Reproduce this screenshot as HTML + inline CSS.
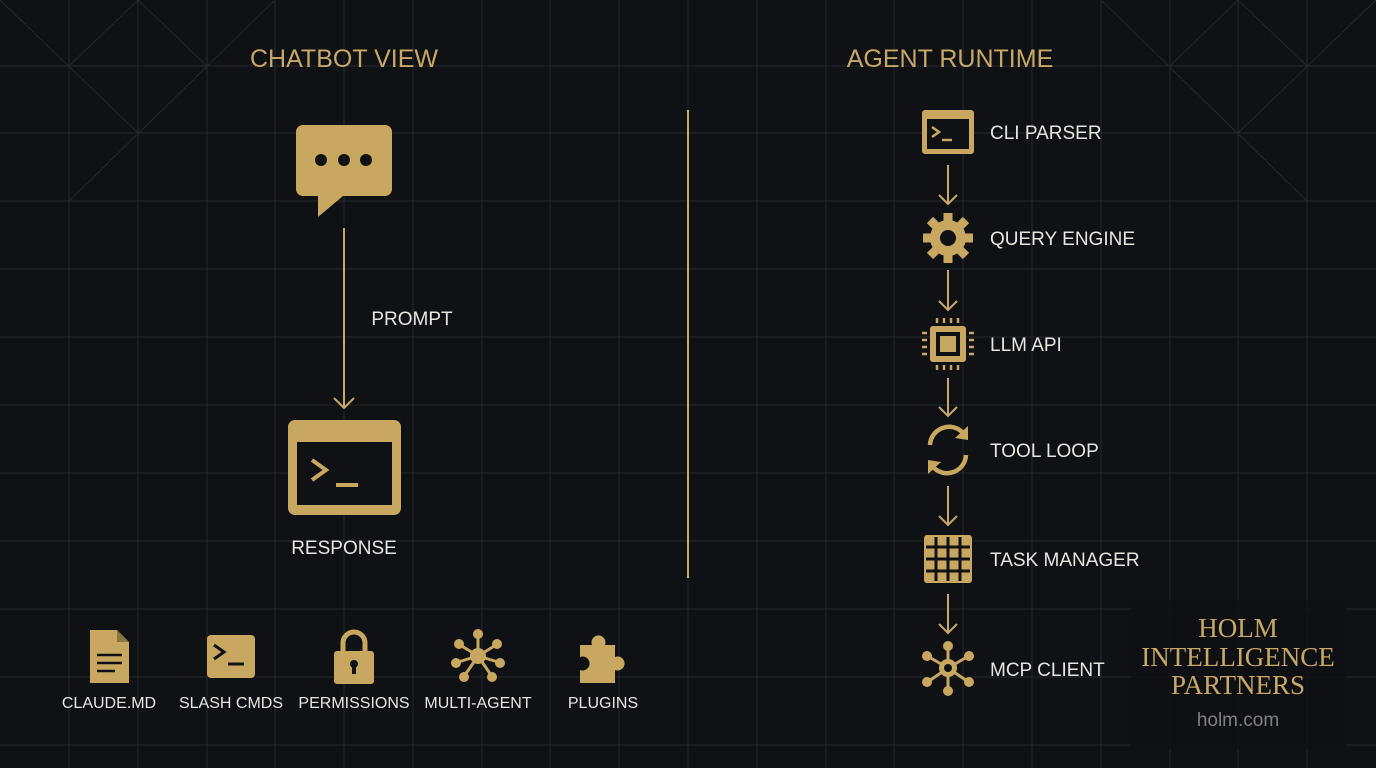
<!DOCTYPE html>
<html><head><meta charset="utf-8"><style>
html,body{margin:0;padding:0;background:#0f1114;}
svg{display:block}
text{font-family:"Liberation Sans",sans-serif;}
</style></head><body>
<svg width="1376" height="768" viewBox="0 0 1376 768" xmlns="http://www.w3.org/2000/svg">
<rect width="1376" height="768" fill="#0f1114"/>
<g stroke="#26292c" stroke-width="1">
<line x1="69" y1="0" x2="69" y2="768"/><line x1="138" y1="0" x2="138" y2="768"/><line x1="207" y1="0" x2="207" y2="768"/><line x1="275" y1="0" x2="275" y2="768"/><line x1="344" y1="0" x2="344" y2="768"/><line x1="413" y1="0" x2="413" y2="768"/><line x1="482" y1="0" x2="482" y2="768"/><line x1="550" y1="0" x2="550" y2="768"/><line x1="619" y1="0" x2="619" y2="768"/><line x1="688" y1="0" x2="688" y2="768"/><line x1="757" y1="0" x2="757" y2="768"/><line x1="826" y1="0" x2="826" y2="768"/><line x1="894" y1="0" x2="894" y2="768"/><line x1="963" y1="0" x2="963" y2="768"/><line x1="1032" y1="0" x2="1032" y2="768"/><line x1="1101" y1="0" x2="1101" y2="768"/><line x1="1170" y1="0" x2="1170" y2="768"/><line x1="1238" y1="0" x2="1238" y2="768"/><line x1="1307" y1="0" x2="1307" y2="768"/>
<line x1="0" y1="66" x2="1376" y2="66"/><line x1="0" y1="133" x2="1376" y2="133"/><line x1="0" y1="201" x2="1376" y2="201"/><line x1="0" y1="269" x2="1376" y2="269"/><line x1="0" y1="337" x2="1376" y2="337"/><line x1="0" y1="405" x2="1376" y2="405"/><line x1="0" y1="473" x2="1376" y2="473"/><line x1="0" y1="541" x2="1376" y2="541"/><line x1="0" y1="609" x2="1376" y2="609"/><line x1="0" y1="677" x2="1376" y2="677"/><line x1="0" y1="745" x2="1376" y2="745"/>
<line x1="0" y1="0" x2="138" y2="133"/><line x1="138" y1="0" x2="69" y2="66"/><line x1="138" y1="0" x2="207" y2="66"/><line x1="275" y1="0" x2="69" y2="201"/>
<line x1="1376" y1="0" x2="1238" y2="133"/><line x1="1238" y1="0" x2="1307" y2="66"/><line x1="1101" y1="0" x2="1307" y2="201"/><line x1="1238" y1="0" x2="1170" y2="66"/>
</g>
<rect x="1130" y="600" width="216" height="150" fill="#0f1114" opacity="0.85"/>
<g fill="#c8a868" font-size="25"><text x="344" y="67" text-anchor="middle">CHATBOT VIEW</text><text x="950" y="67" text-anchor="middle">AGENT RUNTIME</text></g>
<line x1="688" y1="110" x2="688" y2="578" stroke="#c8a868" stroke-width="2"/>
<path d="M303 125 H385 a7 7 0 0 1 7 7 V189 a7 7 0 0 1 -7 7 H343 L318 217 V196 H303 a7 7 0 0 1 -7 -7 V132 a7 7 0 0 1 7 -7Z" fill="#c8a860"/>
<circle cx="321" cy="160" r="6" fill="#0f1114"/><circle cx="344" cy="160" r="6" fill="#0f1114"/><circle cx="366" cy="160" r="6" fill="#0f1114"/>
<g stroke="#c8a868" stroke-width="2" fill="none"><line x1="344" y1="228" x2="344" y2="408"/><polyline points="334,398 344,408 354,398"/></g>
<text x="412" y="325" text-anchor="middle" fill="#e8e6e0" font-size="19">PROMPT</text>
<rect x="288" y="420" width="113" height="95" rx="7" fill="#c8a860"/>
<rect x="297" y="442" width="95" height="63" fill="#0f1114"/>
<polyline points="312,460 326,470 312,480" stroke="#c8a860" stroke-width="4" fill="none"/><line x1="336" y1="485" x2="358" y2="485" stroke="#c8a860" stroke-width="4"/>
<text x="344" y="554" text-anchor="middle" fill="#e8e6e0" font-size="19">RESPONSE</text>
<path d="M90 630 H117 L129 642 V683 H90Z" fill="#c8a860"/><g stroke="#0f1114" stroke-width="2.5"><line x1="97" y1="655" x2="122" y2="655"/><line x1="97" y1="663" x2="122" y2="663"/><line x1="97" y1="671" x2="115" y2="671"/></g><path d="M117 630 V642 H129" fill="#8a7442"/>
<rect x="207" y="635" width="48" height="43" rx="4" fill="#c8a860"/><polyline points="214,645 224,652 214,659" stroke="#0f1114" stroke-width="3" fill="none"/><line x1="228" y1="664" x2="244" y2="664" stroke="#0f1114" stroke-width="3"/>
<path d="M343 653 V643 a11 11 0 0 1 22 0 V653" stroke="#c8a860" stroke-width="5" fill="none"/><rect x="334" y="651" width="40" height="33" rx="3" fill="#c8a860"/><circle cx="354" cy="664" r="4" fill="#0f1114"/><rect x="352" y="665" width="4" height="9" fill="#0f1114"/>
<g stroke="#c8a860" stroke-width="3"><line x1="478" y1="656" x2="478" y2="636"/><line x1="478" y1="656" x2="460" y2="645"/><line x1="478" y1="656" x2="496" y2="645"/><line x1="478" y1="656" x2="458" y2="662"/><line x1="478" y1="656" x2="498" y2="662"/><line x1="478" y1="656" x2="465" y2="675"/><line x1="478" y1="656" x2="491" y2="675"/></g>
<g fill="#c8a860"><circle cx="478" cy="634" r="5"/><circle cx="459" cy="644" r="5"/><circle cx="497" cy="644" r="5"/><circle cx="456" cy="663" r="5"/><circle cx="500" cy="663" r="5"/><circle cx="464" cy="677" r="5"/><circle cx="492" cy="677" r="5"/><circle cx="478" cy="656" r="8"/></g>
<path d="M580 645 H592 a7 7 0 1 1 13 0 H615 V657 a7 7 0 1 1 0 13 V683 H580 V670 a7 7 0 1 0 0-13Z" fill="#c8a860"/>
<g fill="#e8e6e0" font-size="16" text-anchor="middle"><text x="109" y="708">CLAUDE.MD</text><text x="231" y="708">SLASH CMDS</text><text x="354" y="708">PERMISSIONS</text><text x="478" y="708">MULTI-AGENT</text><text x="603" y="708">PLUGINS</text></g>
<rect x="922" y="110" width="52" height="44" rx="3" fill="#c8a860"/><rect x="927" y="119" width="42" height="30" fill="#0f1114"/><polyline points="932,127 939,132 932,137" stroke="#c8a860" stroke-width="2.5" fill="none"/><line x1="942" y1="140" x2="952" y2="140" stroke="#c8a860" stroke-width="2.5"/>
<g fill="#c8a860"><circle cx="948" cy="238" r="18"/><g stroke="#c8a860" stroke-width="9"><line x1="948" y1="213" x2="948" y2="263"/><line x1="923" y1="238" x2="973" y2="238"/><line x1="930" y1="220" x2="966" y2="256"/><line x1="966" y1="220" x2="930" y2="256"/></g></g><circle cx="948" cy="238" r="8" fill="#0f1114"/>
<rect x="930" y="326" width="36" height="36" rx="3" fill="#c8a860"/><rect x="936" y="332" width="24" height="24" fill="#0f1114"/><rect x="940" y="336" width="16" height="16" fill="#c8a860"/>
<g stroke="#c8a860" stroke-width="2.5"><line x1="937" y1="318" x2="937" y2="323"/><line x1="944" y1="318" x2="944" y2="323"/><line x1="951" y1="318" x2="951" y2="323"/><line x1="958" y1="318" x2="958" y2="323"/><line x1="937" y1="365" x2="937" y2="370"/><line x1="944" y1="365" x2="944" y2="370"/><line x1="951" y1="365" x2="951" y2="370"/><line x1="958" y1="365" x2="958" y2="370"/><line x1="922" y1="333" x2="927" y2="333"/><line x1="922" y1="340" x2="927" y2="340"/><line x1="922" y1="347" x2="927" y2="347"/><line x1="922" y1="354" x2="927" y2="354"/><line x1="969" y1="333" x2="974" y2="333"/><line x1="969" y1="340" x2="974" y2="340"/><line x1="969" y1="347" x2="974" y2="347"/><line x1="969" y1="354" x2="974" y2="354"/></g>
<path d="M930 445 a19 19 0 0 1 33 -12" stroke="#c8a860" stroke-width="4.5" fill="none"/><path d="M966 455 a19 19 0 0 1 -33 12" stroke="#c8a860" stroke-width="4.5" fill="none"/><polygon points="968,426 968,440 955,438" fill="#c8a860"/><polygon points="928,474 928,460 941,462" fill="#c8a860"/>
<rect x="924" y="535" width="48" height="48" rx="3" fill="#c8a860"/><g stroke="#0f1114" stroke-width="3"><line x1="936" y1="537" x2="936" y2="581"/><line x1="948" y1="537" x2="948" y2="581"/><line x1="960" y1="537" x2="960" y2="581"/><line x1="926" y1="547" x2="970" y2="547"/><line x1="926" y1="559" x2="970" y2="559"/><line x1="926" y1="571" x2="970" y2="571"/></g>
<g stroke="#c8a860" stroke-width="3"><line x1="948" y1="668" x2="948" y2="648"/><line x1="948" y1="668" x2="929" y2="657"/><line x1="948" y1="668" x2="967" y2="657"/><line x1="948" y1="668" x2="929" y2="681"/><line x1="948" y1="668" x2="967" y2="681"/><line x1="948" y1="668" x2="948" y2="690"/></g>
<g fill="#c8a860"><circle cx="948" cy="646" r="5"/><circle cx="927" cy="656" r="5"/><circle cx="969" cy="656" r="5"/><circle cx="927" cy="682" r="5"/><circle cx="969" cy="682" r="5"/><circle cx="948" cy="691" r="5"/><circle cx="948" cy="668" r="9"/></g><circle cx="948" cy="668" r="4" fill="#0f1114"/>
<g stroke="#c8a868" stroke-width="2" fill="none">
<line x1="948" y1="165" x2="948" y2="204"/><polyline points="939,195 948,204 957,195"/>
<line x1="948" y1="270" x2="948" y2="310"/><polyline points="939,301 948,310 957,301"/>
<line x1="948" y1="378" x2="948" y2="416"/><polyline points="939,407 948,416 957,407"/>
<line x1="948" y1="486" x2="948" y2="525"/><polyline points="939,516 948,525 957,516"/>
<line x1="948" y1="594" x2="948" y2="633"/><polyline points="939,624 948,633 957,624"/>
</g>
<g fill="#e8e6e0" font-size="19"><text x="990" y="139">CLI PARSER</text><text x="990" y="245">QUERY ENGINE</text><text x="990" y="351">LLM API</text><text x="990" y="457">TOOL LOOP</text><text x="990" y="566">TASK MANAGER</text><text x="990" y="676">MCP CLIENT</text></g>
<g fill="#c8a868" font-size="27" text-anchor="middle"><text x="1238" y="637" style="font-family:'Liberation Serif',serif">HOLM</text><text x="1238" y="666" style="font-family:'Liberation Serif',serif">INTELLIGENCE</text><text x="1238" y="694" style="font-family:'Liberation Serif',serif">PARTNERS</text></g>
<text x="1238" y="726" text-anchor="middle" fill="#7d8088" font-size="19">holm.com</text>
</svg>
</body></html>
